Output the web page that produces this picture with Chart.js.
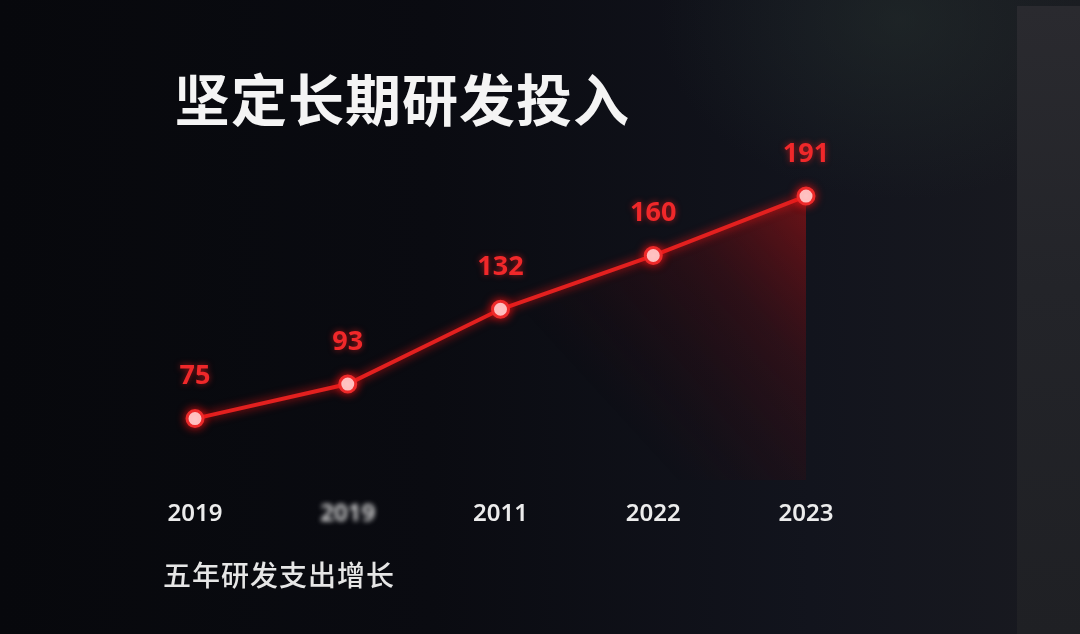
<!DOCTYPE html>
<html lang="zh-CN">
<head>
<meta charset="utf-8">
<title>坚定长期研发投入</title>
<script src="https://cdn.jsdelivr.net/npm/chart.js@4.4.1/dist/chart.umd.min.js"></script>
<style>
  html, body { margin: 0; padding: 0; }
  body {
    width: 1080px; height: 634px; overflow: hidden; position: relative;
    background:
      radial-gradient(ellipse 240px 180px at 900px 20px, rgba(40,52,48,0.45), rgba(0,0,0,0) 100%),
      linear-gradient(90deg, #07080c 0%, #0a0b11 40%, #12141d 75%, #191a20 100%);
    font-family: "Noto Sans CJK SC", "Noto Sans", sans-serif;
  }
  .panel { position: absolute; left: 1017px; top: 6px; width: 63px; height: 628px;
    background: linear-gradient(180deg, #2a2a2f 0%, #232429 45%, #1f2024 100%); }
  .wrap { position: absolute; left: 0; top: 0; width: 1080px; height: 634px; }
  .title { position: absolute; left: 174px; top: 66px; font-size: 56px; font-weight: 700;
    color: #f4f4f4; line-height: 1.1; letter-spacing: 1px; white-space: nowrap; }
  .sub { position: absolute; left: 163px; top: 558px; font-size: 28px; font-weight: 500;
    color: #e6e6e6; line-height: 1.2; letter-spacing: 1px; white-space: nowrap; }
</style>
</head>
<body>
<div class="panel"></div>
<div class="wrap"><canvas id="chartRD" width="1080" height="634"></canvas></div>
<div class="title">坚定长期研发投入</div>
<div class="sub">五年研发支出增长</div>

<script>
// ── DATOS ────────────────────────────────────────────
const years   = ['2019', '2019', '2011', '2022', '2023'];
const spend   = [75, 93, 132, 160, 191];
const blurred = [false, true, false, false, false];

const RED = '#e3201f';

// ── ETIQUETAS (valores + años) ───────────────────────
const labelsPlugin = {
  id: 'labels',
  afterDatasetsDraw(chart) {
    const { ctx, scales: { x } } = chart;
    const meta = chart.getDatasetMeta(0);
    ctx.save();
    ctx.textAlign = 'center';
    // valores rojos encima de cada punto
    ctx.font = '700 27px "Open Sans", "Noto Sans", sans-serif';
    ctx.fillStyle = '#f0282a';
    ctx.shadowColor = 'rgba(255,30,30,0.6)';
    ctx.shadowBlur = 6;
    ctx.textBaseline = 'middle';
    meta.data.forEach((pt, i) => ctx.fillText(String(spend[i]), pt.x, pt.y - 42));
    // años en el eje
    ctx.shadowBlur = 0;
    ctx.font = '600 24px "Noto Sans", "Open Sans", sans-serif';
    ctx.fillStyle = '#ececec';
    years.forEach((y, i) => {
      ctx.filter = blurred[i] ? 'blur(2.5px)' : 'none';
      ctx.fillText(y, x.getPixelForValue(i), 514);
    });
    ctx.restore();
  }
};

// ── GLOW DE LA LÍNEA ─────────────────────────────────
const glowPlugin = {
  id: 'glow',
  beforeDatasetDraw(chart) {
    chart.ctx.save();
    chart.ctx.shadowColor = 'rgba(255,20,20,0.8)';
    chart.ctx.shadowBlur = 10;
  },
  afterDatasetDraw(chart) { chart.ctx.restore(); }
};

// ── GRÁFICO ──────────────────────────────────────────
new Chart(document.getElementById('chartRD'), {
  type: 'line',
  data: {
    labels: years,
    datasets: [{
      data: spend,
      borderColor: RED,
      borderWidth: 4,
      tension: 0,
      fill: 'origin',
      backgroundColor: (c) => {
        const a = c.chart.chartArea;
        if (!a) return 'rgba(0,0,0,0)';
        const g = c.chart.ctx.createLinearGradient(a.right, a.top + 10, a.right - 230, a.top + 220);
        g.addColorStop(0, 'rgba(200,20,20,0.6)');
        g.addColorStop(0.45, 'rgba(130,10,15,0.25)');
        g.addColorStop(1, 'rgba(60,0,5,0)');
        return g;
      },
      pointRadius: 8,
      pointHoverRadius: 8,
      pointBackgroundColor: '#fff3f3',
      pointBorderColor: '#ee2a2a',
      pointBorderWidth: 3,
      clip: false
    }]
  },
  options: {
    responsive: false,
    animation: false,
    layout: { padding: { left: 195, right: 274, top: 150, bottom: 154 } },
    plugins: { legend: { display: false }, tooltip: { enabled: false } },
    scales: {
      x: { display: false, offset: false },
      y: { display: false, min: 43, max: 215 }
    }
  },
  plugins: [glowPlugin, labelsPlugin]
});
</script>
</body>
</html>
